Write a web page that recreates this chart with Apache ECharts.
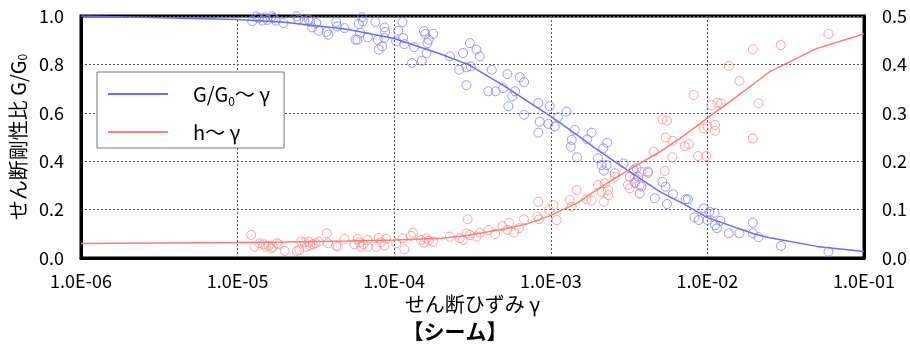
<!DOCTYPE html>
<html>
<head>
<meta charset="utf-8">
<script src="https://cdn.jsdelivr.net/npm/echarts@6/dist/echarts.min.js"></script>
<style>html,body{margin:0;padding:0;background:#fff;}#c{width:910px;height:346px;}</style>
</head>
<body>
<div id="c"></div>
<script>
// ---- tick labels ----
var xTickLabels = ['1.0E-06','1.0E-05','1.0E-04','1.0E-03','1.0E-02','1.0E-01'];
var yLeftLabels = ['0.0','0.2','0.4','0.6','0.8','1.0'];
var yRightLabels = ['0.0','0.1','0.2','0.3','0.4','0.5'];

// ---- fitted curves ----
var fitGamma = [1e-6,1e-5,2e-5,5e-5,1e-4,2e-4,3e-4,5e-4,7e-4,1e-3,1.5e-3,2e-3,3e-3,5e-3,7e-3,1e-2,2e-2,2.5e-2,5e-2,1e-1];
var fitG = [1.000,0.986,0.974,0.945,0.907,0.842,0.798,0.712,0.650,0.585,0.505,0.446,0.368,0.273,0.225,0.167,0.099,0.084,0.048,0.027];
var fitH = [0.030,0.032,0.033,0.035,0.037,0.041,0.047,0.060,0.070,0.088,0.115,0.143,0.178,0.220,0.252,0.289,0.361,0.385,0.433,0.463];

// ---- measured G/G0 ----
var blueGamma = [
1.24e-5,1.32e-5,1.36e-5,1.44e-5,1.49e-5,1.55e-5,1.66e-5,1.70e-5,1.75e-5,1.96e-5,
2.38e-5,2.45e-5,2.67e-5,2.84e-5,2.91e-5,2.99e-5,3.18e-5,3.29e-5,3.70e-5,3.80e-5,
4.26e-5,4.32e-5,4.81e-5,5.66e-5,5.82e-5,5.94e-5,6.06e-5,6.24e-5,6.30e-5,6.78e-5,
7.59e-5,7.85e-5,7.96e-5,8.37e-5,8.66e-5,8.75e-5,8.66e-5,
1.13e-4,1.06e-4,1.03e-4,1.14e-4,1.16e-4,1.34e-4,1.55e-4,1.58e-4,1.77e-4,1.66e-4,1.63e-4,1.61e-4,1.50e-4,1.30e-4,
2.27e-4,2.75e-4,3.04e-4,3.35e-4,3.52e-4,2.60e-4,2.89e-4,3.08e-4,2.89e-4,4.20e-4,5.28e-4,6.34e-4,6.75e-4,
3.99e-4,4.45e-4,4.96e-4,5.91e-4,5.68e-4,5.36e-4,8.32e-4,9.84e-4,6.75e-4,
8.49e-4,8.32e-4,9.64e-4,1.06e-3,1.11e-3,1.26e-3,1.42e-3,1.36e-3,1.34e-3,1.47e-3,1.71e-3,1.82e-3,
2.29e-3,2.16e-3,2.00e-3,2.11e-3,2.27e-3,2.18e-3,2.56e-3,2.92e-3,3.38e-3,3.52e-3,3.19e-3,3.61e-3,
3.44e-3,3.79e-3,3.70e-3,4.17e-3,5.16e-3,5.41e-3,4.61e-3,6.03e-3,5.52e-3,7.26e-3,7.51e-3,9.46e-3,
1.03e-2,1.11e-2,8.26e-3,8.80e-3,1.00e-2,1.21e-2,1.12e-2,1.15e-2,1.37e-2,1.60e-2,1.95e-2,1.95e-2,
2.12e-2,2.95e-2,5.93e-2];
var blueG = [
0.978,0.999,0.992,0.981,0.994,0.984,0.999,0.992,0.981,0.971,
0.999,0.985,0.981,0.985,0.975,0.953,0.971,0.939,0.934,0.923,
0.975,0.957,0.950,0.902,0.902,0.967,0.930,0.995,0.978,0.912,
0.975,0.902,0.861,0.875,0.953,0.934,0.909,
0.975,0.939,0.895,0.909,0.884,0.871,0.937,0.926,0.926,0.902,0.888,0.847,0.815,0.806,
0.833,0.847,0.888,0.861,0.833,0.778,0.788,0.792,0.714,0.778,0.760,0.747,0.727,
0.689,0.689,0.702,0.689,0.668,0.627,0.640,0.627,0.592,
0.563,0.518,0.554,0.543,0.581,0.605,0.529,0.488,0.460,0.416,0.490,0.518,
0.476,0.453,0.412,0.384,0.384,0.361,0.350,0.391,0.364,0.371,0.336,0.336,
0.311,0.295,0.267,0.357,0.315,0.295,0.247,0.264,0.223,0.243,0.243,0.205,
0.191,0.187,0.168,0.157,0.157,0.154,0.136,0.123,0.102,0.102,0.146,0.102,
0.086,0.050,0.026];

// ---- measured h ----
var redGamma = [
1.22e-5,1.28e-5,1.38e-5,1.47e-5,1.51e-5,1.58e-5,1.64e-5,1.68e-5,1.78e-5,1.83e-5,
2.00e-5,2.39e-5,2.48e-5,2.55e-5,2.67e-5,2.74e-5,2.85e-5,2.91e-5,3.02e-5,3.14e-5,
3.30e-5,3.71e-5,3.77e-5,4.26e-5,4.36e-5,4.81e-5,5.57e-5,5.85e-5,6.00e-5,6.15e-5,
6.37e-5,6.78e-5,6.78e-5,7.67e-5,7.96e-5,8.25e-5,8.66e-5,8.88e-5,1.03e-4,
1.13e-4,1.16e-4,1.32e-4,1.28e-4,1.48e-4,1.55e-4,1.61e-4,1.66e-4,1.77e-4,2.27e-4,
2.62e-4,2.75e-4,2.89e-4,2.94e-4,3.04e-4,3.35e-4,3.52e-4,4.00e-4,4.41e-4,4.91e-4,
5.28e-4,5.42e-4,5.82e-4,6.26e-4,6.74e-4,8.20e-4,8.41e-4,8.32e-4,9.76e-4,
1.04e-3,1.09e-3,1.32e-3,1.36e-3,1.46e-3,1.69e-3,1.82e-3,2.00e-3,2.11e-3,2.21e-3,
2.32e-3,2.32e-3,2.18e-3,2.56e-3,3.11e-3,3.19e-3,3.43e-3,3.70e-3,3.79e-3,4.18e-3,
4.54e-3,5.34e-3,5.97e-3,5.42e-3,5.97e-3,5.16e-3,5.52e-3,7.16e-3,7.63e-3,8.71e-3,
9.84e-3,8.16e-3,9.47e-3,1.00e-2,1.12e-2,1.12e-2,1.06e-2,1.16e-2,1.22e-2,1.37e-2,
1.60e-2,1.95e-2,2.12e-2,1.95e-2,2.94e-2,5.93e-2];
var redH = [
0.0475,0.0233,0.0304,0.0283,0.0233,0.0254,0.0200,0.0233,0.0304,0.0283,
0.0145,0.0145,0.0165,0.0337,0.0324,0.0233,0.0337,0.0254,0.0283,0.0304,
0.0337,0.0510,0.0304,0.0254,0.0233,0.0393,0.0283,0.0393,0.0324,0.0233,
0.0283,0.0372,0.0233,0.0233,0.0419,0.0324,0.0254,0.0393,0.0304,
0.0407,0.0180,0.0523,0.0455,0.0372,0.0316,0.0407,0.0357,0.0337,0.0440,
0.0407,0.0372,0.0510,0.0800,0.0475,0.0440,0.0523,0.0579,0.0496,0.0661,
0.0579,0.0729,0.0523,0.0614,0.0800,0.0853,0.0800,0.1163,0.0992,
0.1095,0.0785,0.1198,0.1060,0.1405,0.1213,0.1184,0.1508,0.1370,0.1543,
0.1405,0.1300,0.1163,0.1680,0.1508,0.1440,0.1647,0.1508,0.1780,0.1760,
0.2196,0.1800,0.2080,0.2490,0.2420,0.2866,0.2837,0.2310,0.2355,0.2107,
0.2107,0.3368,0.2680,0.2713,0.2748,0.2630,0.3160,0.3210,0.3196,0.3970,
0.3660,0.4310,0.3196,0.2470,0.4400,0.4630];

function zip(a, b) { return a.map(function (v, i) { return [v, b[i]]; }); }

var BLUE_LINE = '#6b6bff', BLUE_PT = '#8080ff';
var RED_LINE = '#ff7a7a', RED_PT = '#ff8c8c';
var FONT = "'Noto Sans CJK JP', 'Noto Sans', sans-serif";

var legendText = {
  'G/G0～γ': '{t|G/G}{s|0}{t|～ γ}',
  'h～γ': '{t|h～ γ}'
};

var chart = echarts.init(document.getElementById('c'));
chart.setOption({
  animation: false,
  backgroundColor: '#fff',
  textStyle: { fontFamily: FONT, color: '#000' },
  title: {
    text: '【シーム】',
    left: 'center',
    top: 321,
    padding: 0,
    textStyle: { fontSize: 21, fontWeight: 'bold', color: '#000', fontFamily: FONT }
  },
  grid: { left: 81, right: 45, top: 16, bottom: 88, show: true, borderColor: '#000', borderWidth: 3, backgroundColor: 'transparent' },
  legend: {
    data: ['G/G0～γ', 'h～γ'],
    orient: 'vertical',
    left: 97, top: 72,
    padding: [12, 14, 6, 11],
    itemGap: 15,
    itemWidth: 60, itemHeight: 2,
    icon: 'rect',
    borderColor: '#777', borderWidth: 1,
    backgroundColor: '#fff',
    formatter: function (n) { return legendText[n]; },
    textStyle: {
      fontFamily: FONT,
      padding: [0, 0, 0, 20],
      rich: {
        t: { fontSize: 20, color: '#000', fontFamily: FONT, lineHeight: 26 },
        s: { fontSize: 12, color: '#000', fontFamily: FONT, verticalAlign: 'bottom', lineHeight: 20 }
      }
    }
  },
  xAxis: {
    type: 'log', logBase: 10, min: 1e-6, max: 1e-1,
    name: 'せん断ひずみ γ', nameLocation: 'middle', nameGap: 33,
    nameTextStyle: { fontSize: 20, color: '#000', fontFamily: FONT },
    axisLine: { lineStyle: { color: '#000', width: 3 } },
    axisTick: { show: false },
    axisLabel: {
      margin: 14, fontSize: 18, color: '#000', fontFamily: FONT,
      formatter: function (v) { return xTickLabels[Math.round(Math.log10(v)) + 6]; }
    },
    splitLine: { show: true, lineStyle: { color: '#555', type: [2, 2], width: 1 } },
    minorTick: { show: false }, minorSplitLine: { show: false }
  },
  yAxis: [{
    type: 'value', min: 0, max: 1, interval: 0.2,
    name: 'せん断剛性比 G/G{s|0}', nameLocation: 'middle', nameGap: 47,
    nameTextStyle: { fontSize: 20, color: '#000', fontFamily: FONT,
      rich: { s: { fontSize: 12, fontFamily: FONT, color: '#000', verticalAlign: 'bottom', lineHeight: 18 } } },
    axisLine: { show: true, lineStyle: { color: '#000', width: 3 } },
    axisTick: { show: false },
    axisLabel: { margin: 17, fontSize: 18, color: '#000', fontFamily: FONT,
      formatter: function (v) { return yLeftLabels[Math.round(v / 0.2)]; } },
    splitLine: { show: true, lineStyle: { color: '#555', type: [2, 2], width: 1 } }
  }, {
    type: 'value', min: 0, max: 0.5, interval: 0.1, position: 'right',
    axisLine: { show: true, lineStyle: { color: '#000', width: 3 } },
    axisTick: { show: false },
    axisLabel: { margin: 18, fontSize: 18, color: '#000', fontFamily: FONT,
      formatter: function (v) { return yRightLabels[Math.round(v / 0.1)]; } },
    splitLine: { show: false }
  }],
  series: [
    { name: 'G/G0 data', type: 'scatter', yAxisIndex: 0, data: zip(blueGamma, blueG),
      symbol: 'circle', symbolSize: 9,
      itemStyle: { color: 'rgba(0,0,0,0)', borderColor: BLUE_PT, borderWidth: 1 }, z: 3 },
    { name: 'h data', type: 'scatter', yAxisIndex: 1, data: zip(redGamma, redH),
      symbol: 'circle', symbolSize: 9,
      itemStyle: { color: 'rgba(0,0,0,0)', borderColor: RED_PT, borderWidth: 1 }, z: 3 },
    { name: 'G/G0～γ', type: 'line', yAxisIndex: 0, data: zip(fitGamma, fitG),
      showSymbol: false, symbol: 'none', smooth: false,
      lineStyle: { color: BLUE_LINE, width: 1.5 }, itemStyle: { color: BLUE_LINE }, z: 4 },
    { name: 'h～γ', type: 'line', yAxisIndex: 1, data: zip(fitGamma, fitH),
      showSymbol: false, symbol: 'none', smooth: false,
      lineStyle: { color: RED_LINE, width: 1.5 }, itemStyle: { color: RED_LINE }, z: 4 }
  ]
});
</script>
</body>
</html>
